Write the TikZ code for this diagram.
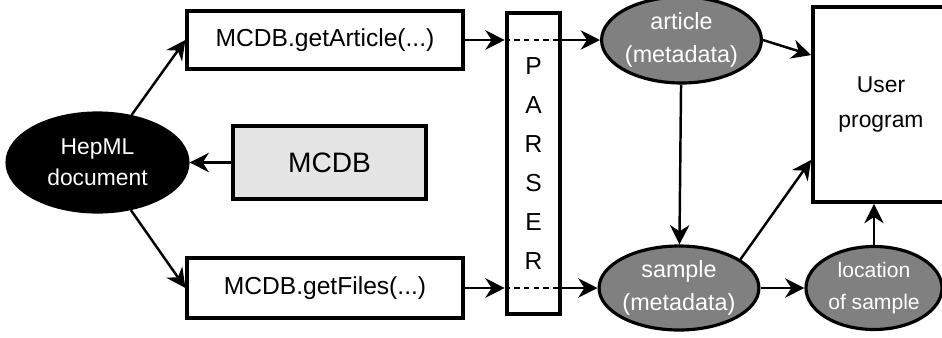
\documentclass[tikz,border=0pt]{standalone}
\usepackage{fontspec}
\setmainfont{Liberation Sans}
\usetikzlibrary{arrows.meta}
\usetikzlibrary{shapes.geometric}
\definecolor{metagray}{gray}{0.5}
\definecolor{dbgray}{gray}{0.9}
\tikzset{call/.style = {draw, line width = 1.8pt, minimum width = 5.52cm, minimum height = 1.16cm, inner sep = 0, font = \fontsize{14}{17}\selectfont}}
\tikzset{meta/.style = {draw, ellipse, fill = metagray, line width = 1.8pt, inner sep = 0, text = white, align = center}}
\tikzset{link/.style = {-{Stealth[length = 11pt, width = 11pt]}, line width = 1.4pt}}

\begin{document}
\begin{tikzpicture}
      \useasboundingbox (0, 0) rectangle (18.84, -6.74);
      \node [meta, fill = black, minimum width = 3.62cm, minimum height = 1.98cm, font = \fontsize{13}{17.6}\selectfont] (hep) at (1.95, -3.25) {HepML\\document};
      \node [call] (art) at (6.5, -0.8) {MCDB.getArticle(...)};
      \node [call, minimum height = 1.2cm] (files) at (6.5, -5.76) {MCDB.getFiles(...)};
      \node [draw, fill = dbgray, line width = 1.8pt, minimum width = 3.86cm, minimum height = 1.46cm, font = \fontsize{16}{19}\selectfont] (mcdb) at (6.59, -3.25) {MCDB};
      \node [draw, line width = 2.6pt, minimum width = 1.06cm, minimum height = 6.02cm, align = center, font = \fontsize{14}{22.2}\selectfont] (parser) at (10.67, -3.27) {P\\A\\R\\S\\E\\R};

      \node [meta, minimum width = 3.18cm, minimum height = 1.72cm, font = \fontsize{13.3}{18.8}\selectfont] (article) at (13.63, -0.8) {article\\(metadata)};
      \node [meta, minimum width = 3.12cm, minimum height = 1.68cm, font = \fontsize{13.3}{18.8}\selectfont] (sample) at (13.58, -5.76) {sample\\(metadata)};
      \node [meta, minimum width = 2.72cm, minimum height = 1.66cm, font = \fontsize{12}{18.2}\selectfont] (loc) at (17.48, -5.76) {location\\of sample};
      \node [draw, line width = 2.2pt, minimum width = 2.72cm, minimum height = 3.9cm, align = center, font = \fontsize{13}{19.9}\selectfont] (user) at (17.62, -2.09) {User\\program};

      \draw [link] (hep) -- (art.west);
      \draw [link] (hep) -- (files.west);
      \draw [link] (mcdb) -- (hep);

      \draw [link] (art) -- (art -| parser.west);
      \draw [line width = 1.4pt, dash pattern = on 3pt off 2.5pt] (art -| parser.west) -- (art -| parser.east);
      \draw [link] (art -| parser.east) -- (article);
      \draw [link] (files) -- (files -| parser.west);
      \draw [line width = 1.4pt, dash pattern = on 3pt off 2.5pt] (files -| parser.west) -- (files -| parser.east);
      \draw [link] (files -| parser.east) -- (sample);

      \draw [link] (article) -- (sample);
      \draw [link] (article.east) -- ([yshift = -1cm]user.north west);
      \draw [link] (sample.25) -- ([yshift = 0.88cm]user.south west);
      \draw [link] (sample) -- (loc);
      \draw [link] (loc) -- (loc |- user.south);
    \end{tikzpicture}
\end{document}
